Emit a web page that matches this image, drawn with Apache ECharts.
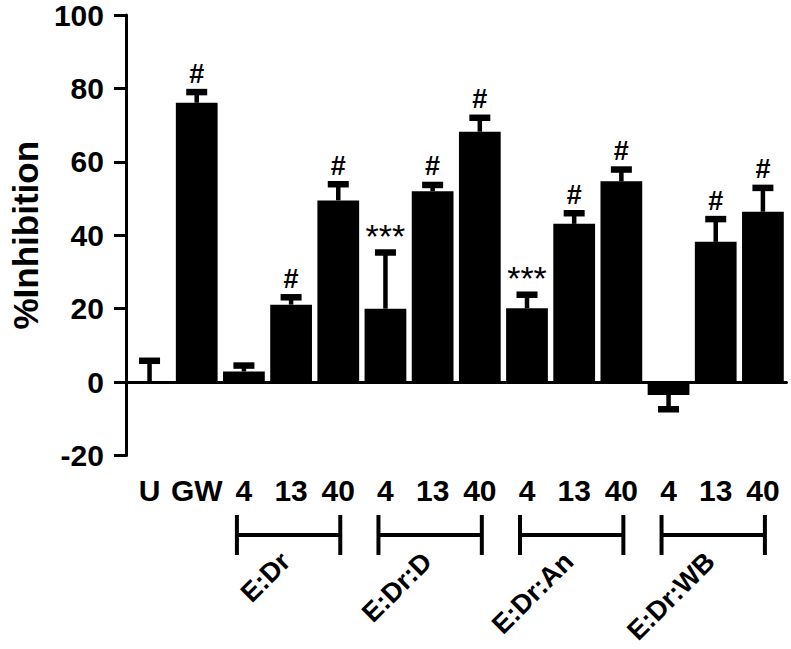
<!DOCTYPE html>
<html><head><meta charset="utf-8">
<script src="https://cdn.jsdelivr.net/npm/echarts@6/dist/echarts.min.js"></script>
<style>html,body{margin:0;padding:0;background:#fff}#chart{width:791px;height:649px}</style>
</head><body><div id="chart"></div>
<script>
// ---- data ----
const categories = ['U', 'GW', '4', '13', '40', '4', '13', '40', '4', '13', '40', '4', '13', '40'];
const values = [0, 76.1, 2.9, 21.1, 49.5, 20.0, 52.0, 68.2, 20.1, 43.1, 54.7, -3.5, 38.2, 46.4];
const errors = [5.8, 2.9, 1.6, 2.0, 4.4, 15.3, 1.7, 3.8, 3.7, 2.9, 3.2, 3.9, 6.2, 6.5];
const marks = ['', '#', '', '#', '#', '***', '#', '#', '***', '#', '#', '', '#', '#'];
const groupNames = ['E:Dr', 'E:Dr:D', 'E:Dr:An', 'E:Dr:WB'];
const groupFirst = [2, 5, 8, 11];
const groupLast = [4, 7, 10, 13];
const yMin = -20, yMax = 100, yStep = 20;
const yAxisTitle = '%Inhibition';

// ---- styling ----
const FONT = 'Arial, "Liberation Sans", Helvetica, sans-serif';
const chart = echarts.init(document.getElementById('chart'), null, {renderer: 'svg'});

const option = {
  animation: false,
  backgroundColor: '#fff',
  grid: {left: 125, right: 4.5, top: 15, bottom: 193.5, containLabel: false},
  xAxis: {
    type: 'category', data: categories, boundaryGap: true,
    axisLine: {lineStyle: {color: '#000', width: 3}},
    axisTick: {alignWithLabel: true, length: 11, lineStyle: {color: '#000', width: 3}},
    axisLabel: {interval: 0, color: '#000', fontSize: 30, fontWeight: 'bold', fontFamily: FONT, margin: 20},
    splitLine: {show: false}
  },
  yAxis: {
    type: 'value', min: yMin, max: yMax, interval: yStep,
    axisLine: {show: true, lineStyle: {color: '#000', width: 3}},
    axisTick: {show: true, length: 12, lineStyle: {color: '#000', width: 3}},
    axisLabel: {color: '#000', fontSize: 30, fontWeight: 'bold', fontFamily: FONT, margin: 22},
    splitLine: {show: false},
    name: yAxisTitle, nameLocation: 'middle', nameGap: 82, nameRotate: 90,
    nameTextStyle: {color: '#000', fontSize: 35, fontWeight: 'bold', fontFamily: FONT}
  },
  series: [
    {
      type: 'bar', data: values, barCategoryGap: '11.5%',
      itemStyle: {color: '#000'}, z: 2,
      markLine: {
        silent: true, symbol: ['none', 'none'], label: {show: false},
        lineStyle: {color: '#000', width: 2, type: 'solid'},
        data: [{yAxis: 0}]
      }
    },
    {
      type: 'custom', z: 3,
      data: values.map((v, i) => [i, v, errors[i]]),
      renderItem: function (params, api) {
        const i = api.value(0), v = api.value(1), e = api.value(2);
        const dir = v < 0 ? -1 : 1;
        const p0 = api.coord([i, v]);
        const p1 = api.coord([i, v + dir * e]);
        const stemW = 4.5, capW = 21, capH = 6.5;
        const children = [
          {type: 'rect', shape: {x: p0[0] - stemW / 2, y: Math.min(p0[1], p1[1]), width: stemW, height: Math.abs(p1[1] - p0[1])}, style: {fill: '#000'}},
          {type: 'rect', shape: {x: p1[0] - capW / 2, y: p1[1] - capH / 2, width: capW, height: capH}, style: {fill: '#000'}}
        ];
        const m = marks[params.dataIndex];
        if (m) {
          const star = m.indexOf('*') >= 0;
          children.push({
            type: 'text', x: p1[0], y: p1[1] - (star ? 0 : 5),
            style: {text: m, align: 'center', verticalAlign: 'bottom', fill: '#000',
              fontSize: star ? 34 : 27, fontFamily: FONT, fontWeight: star ? 'normal' : 'bold'}
          });
        }
        return {type: 'group', children: children};
      }
    }
  ]
};
chart.setOption(option);

// group brackets and labels under the axis
const graphics = [];
const bracketY = 535, bracketHalf = 20;
for (let g = 0; g < groupNames.length; g++) {
  const xa = chart.convertToPixel({xAxisIndex: 0}, groupFirst[g]) - 7;
  const xb = chart.convertToPixel({xAxisIndex: 0}, groupLast[g]) + 2;
  const st = {stroke: '#000', lineWidth: 4};
  graphics.push({type: 'line', shape: {x1: xa, y1: bracketY, x2: xb, y2: bracketY}, style: st});
  graphics.push({type: 'line', shape: {x1: xa, y1: bracketY - bracketHalf, x2: xa, y2: bracketY + bracketHalf}, style: st});
  graphics.push({type: 'line', shape: {x1: xb, y1: bracketY - bracketHalf, x2: xb, y2: bracketY + bracketHalf}, style: st});
  const cx = (xa + xb) / 2;
  graphics.push({
    type: 'text', x: cx - 3, y: 557, rotation: Math.PI / 4,
    style: {text: groupNames[g], align: 'right', verticalAlign: 'middle', fill: '#000',
      fontSize: 27, fontWeight: 'bold', fontFamily: FONT}
  });
}
chart.setOption({graphic: graphics});
</script>
</body></html>
